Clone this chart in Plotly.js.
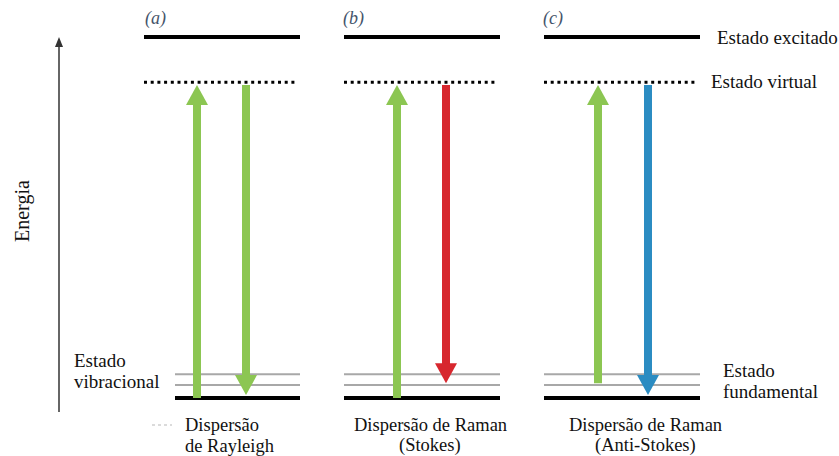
<!DOCTYPE html>
<html><head><meta charset="utf-8">
<script src="https://cdn.plot.ly/plotly-3.0.1.min.js"></script>
<style>html,body{margin:0;padding:0;background:#fff}</style>
</head><body><div id="chart" style="width:839px;height:456px"></div>
<script>
// ---- data ----
const panelLabels = ['(a)', '(b)', '(c)'];
const panelLeft = [144, 344, 544];
const panelRight = [300, 500, 700];
const groundLeft = [175, 344, 544];
const levelEnergy = { fundamental: 0, vib1: 0.36, vib2: 0.66, virtual: 8.75, excitado: 10 };
const incidentX = [197, 397, 598];
const scatteredX = [246, 446, 648];
const incidentFrom = [0, 0, 0.41];
const incidentTo = [8.67, 8.67, 8.67];
const scatteredFrom = [8.67, 8.67, 8.67];
const scatteredTo = [0.08, 0.41, 0.08];
const incidentColor = '#8cc652';
const scatteredColor = ['#8cc652', '#d7272e', '#2b8cc2'];
const captionLine1 = ['Dispersão', 'Dispersão de Raman', 'Dispersão de Raman'];
const captionLine2 = ['de Rayleigh', '(Stokes)', '(Anti-Stokes)'];

// ---- helpers (pixel -> energy units for layout placement) ----
const PXU = 36.1, GROUNDPX = 398;
const E = p => (GROUNDPX - p) / PXU;
const headLen = 20 / PXU, headHalf = 11;
const font = 'Liberation Serif';

const shapes = [];
function hline(x0, x1, y, color, width, dash) {
  shapes.push({ type: 'line', xref: 'x', yref: 'y', x0: x0, x1: x1, y0: y, y1: y,
    line: { color: color, width: width, dash: dash || 'solid' } });
}
function arrow(x, from, to, color) {
  const dir = to > from ? 1 : -1;
  const base = to - dir * headLen;
  shapes.push({ type: 'line', xref: 'x', yref: 'y', x0: x, x1: x, y0: from, y1: base + dir * 0.05,
    line: { color: color, width: 8 } });
  shapes.push({ type: 'path', xref: 'x', yref: 'y',
    path: `M ${x - headHalf},${base} L ${x + headHalf},${base} L ${x},${to} Z`,
    fillcolor: color, line: { width: 0 } });
}

for (let i = 0; i < 3; i++) {
  hline(panelLeft[i], panelRight[i], levelEnergy.excitado, '#000', 4);
  hline(panelLeft[i], panelRight[i] - 3, levelEnergy.virtual, '#000', 3, '3px,3.7px');
  hline(groundLeft[i], panelRight[i], levelEnergy.vib2, '#a8a8a8', 2);
  hline(groundLeft[i], panelRight[i], levelEnergy.vib1, '#a8a8a8', 2);
  hline(groundLeft[i], panelRight[i], levelEnergy.fundamental, '#000', 4);
  arrow(incidentX[i], incidentFrom[i], incidentTo[i], incidentColor);
  arrow(scatteredX[i], scatteredFrom[i], scatteredTo[i], scatteredColor[i]);
}
// energy axis arrow
shapes.push({ type: 'line', xref: 'x', yref: 'y', x0: 59, x1: 59, y0: E(412), y1: E(46),
  line: { color: '#333', width: 1.5 } });
shapes.push({ type: 'path', xref: 'x', yref: 'y',
  path: `M 55,${E(47)} L 63,${E(47)} L 59,${E(37)} Z`, fillcolor: '#333', line: { width: 0 } });
// faint mark
hline(152, 172, E(425), '#d0d0d0', 1.5, '3px,3px');

const ann = [];
function txt(text, x, py, xanchor, opts) {
  ann.push(Object.assign({ text: text, x: x, y: E(py), xref: 'x', yref: 'y', xanchor: xanchor,
    yanchor: 'middle', showarrow: false, borderpad: 0,
    font: { family: font, size: 19, color: '#111' } }, opts || {}));
}
const labelX = [144, 342, 542];
for (let i = 0; i < 3; i++) {
  txt('<i>' + panelLabels[i] + '</i>', labelX[i], 18, 'left', { font: { family: font, size: 18, color: '#44546a' } });
}
const capX = [184, 430, 645];
const capAnchor = ['left', 'center', 'center'];
const capFont = { family: font, size: 18.5, color: '#111' };
for (let i = 0; i < 3; i++) {
  txt(captionLine1[i], capX[i], 425, capAnchor[i], { font: capFont });
  txt(captionLine2[i], capX[i], 445.5, capAnchor[i], { font: capFont });
}
txt('Estado excitado', 716, 37, 'left');
txt('Estado virtual', 710, 81, 'left');
txt('Estado', 73, 360, 'left');
txt('vibracional', 73, 381, 'left');
txt('Estado', 722, 370, 'left');
txt('fundamental', 722, 391, 'left');
txt('Energia', 22, 211, 'center', { textangle: -90, font: { family: font, size: 20, color: '#111' } });

Plotly.newPlot('chart', [], {
  width: 839, height: 456, autosize: false,
  margin: { l: 0, r: 0, t: 0, b: 0 },
  paper_bgcolor: '#fff', plot_bgcolor: '#fff',
  xaxis: { range: [0, 839], visible: false, fixedrange: true },
  yaxis: { range: [E(456), E(0)], visible: false, fixedrange: true },
  shapes: shapes, annotations: ann, showlegend: false
}, { displayModeBar: false, staticPlot: true });
</script></body></html>
